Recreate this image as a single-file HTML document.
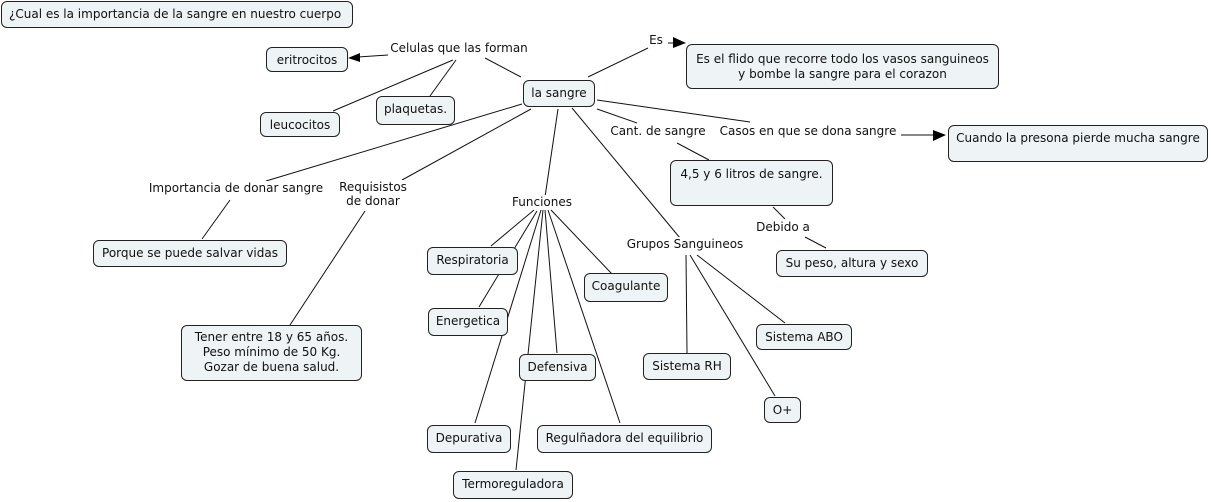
<!DOCTYPE html>
<html><head><meta charset="utf-8"><style>
body{margin:0;width:1211px;height:502px;background:#fff;position:relative;overflow:hidden;font-family:"DejaVu Sans","Liberation Sans",sans-serif;font-size:12px;color:#111}
.b{position:absolute;box-sizing:border-box;border:1px solid #222;border-radius:6px;background:#eef3f6;text-align:center;white-space:nowrap;line-height:15px;padding-top:5px}
.l{position:absolute;white-space:nowrap;text-align:center;line-height:14px;background:#fff;transform:translateX(-50%)}
svg{position:absolute;left:0;top:0}
</style></head><body>
<svg width="1211" height="502" stroke="#111" stroke-width="1" fill="none">
<line x1="521" y1="77" x2="485" y2="58"/>
<line x1="388" y1="55" x2="358" y2="57"/><polygon points="348,58 360,53 360,62" fill="#000" stroke="none"/>
<line x1="453" y1="60" x2="333" y2="111"/>
<line x1="456" y1="60" x2="430" y2="96"/>
<line x1="588" y1="77" x2="648" y2="48"/>
<line x1="668" y1="43" x2="676" y2="43"/><polygon points="686,43 673,37 673,48" fill="#000" stroke="none"/>
<line x1="597" y1="109" x2="637" y2="123"/>
<line x1="677" y1="143" x2="709" y2="160"/>
<line x1="597" y1="100" x2="750" y2="122"/>
<line x1="901" y1="135" x2="935" y2="135"/><polygon points="946,135 933,130 933,141" fill="#000" stroke="none"/>
<line x1="773" y1="207" x2="785" y2="219"/>
<line x1="805" y1="237" x2="826" y2="248"/>
<line x1="572" y1="108" x2="680" y2="238"/>
<line x1="558" y1="109" x2="545" y2="197"/>
<line x1="522" y1="104" x2="266" y2="181"/>
<line x1="531" y1="109" x2="402" y2="180"/>
<line x1="230" y1="200" x2="202" y2="239"/>
<line x1="365" y1="211" x2="290" y2="325"/>
<line x1="534" y1="210" x2="491" y2="246"/>
<line x1="537" y1="211" x2="479" y2="307"/>
<line x1="541" y1="210" x2="475" y2="423"/>
<line x1="543" y1="210" x2="516" y2="470"/>
<line x1="545" y1="210" x2="557" y2="353"/>
<line x1="548" y1="210" x2="620" y2="423"/>
<line x1="551" y1="210" x2="612" y2="274"/>
<line x1="686" y1="255" x2="687" y2="353"/>
<line x1="690" y1="255" x2="775" y2="396"/>
<line x1="697" y1="255" x2="785" y2="323"/>
</svg>
<div class="b" style="left:1px;top:1px;width:352px;height:27px;text-align:left;padding-left:7px">¿Cual es la importancia de la sangre en nuestro cuerpo</div>
<div class="b" style="left:266px;top:47px;width:82px;height:25px">eritrocitos</div>
<div class="b" style="left:260px;top:112px;width:80px;height:25px">leucocitos</div>
<div class="b" style="left:376px;top:96px;width:79px;height:29px">plaquetas.</div>
<div class="b" style="left:523px;top:80px;width:72px;height:27px">la sangre</div>
<div class="b" style="left:686px;top:44px;width:313px;height:45px;padding-top:7px">Es el flido que recorre todo los vasos sanguineos<br>y bombe la sangre para el corazon</div>
<div class="b" style="left:948px;top:125px;width:260px;height:37px">Cuando la presona pierde mucha sangre</div>
<div class="b" style="left:670px;top:160px;width:163px;height:46px;padding-top:6px">4,5 y 6 litros de sangre.</div>
<div class="b" style="left:776px;top:250px;width:152px;height:27px">Su peso, altura y sexo</div>
<div class="b" style="left:93px;top:240px;width:194px;height:27px">Porque se puede salvar vidas</div>
<div class="b" style="left:181px;top:325px;width:181px;height:56px;padding-top:4px">Tener entre 18 y 65 años.<br>Peso mínimo de 50 Kg.<br>Gozar de buena salud.</div>
<div class="b" style="left:427px;top:247px;width:91px;height:28px">Respiratoria</div>
<div class="b" style="left:428px;top:308px;width:80px;height:28px">Energetica</div>
<div class="b" style="left:584px;top:273px;width:84px;height:29px">Coagulante</div>
<div class="b" style="left:519px;top:354px;width:77px;height:27px">Defensiva</div>
<div class="b" style="left:427px;top:425px;width:84px;height:28px">Depurativa</div>
<div class="b" style="left:537px;top:425px;width:175px;height:28px">Regulñadora del equilibrio</div>
<div class="b" style="left:453px;top:471px;width:120px;height:28px">Termoreguladora</div>
<div class="b" style="left:643px;top:353px;width:88px;height:27px">Sistema RH</div>
<div class="b" style="left:756px;top:324px;width:96px;height:26px">Sistema ABO</div>
<div class="b" style="left:764px;top:397px;width:37px;height:26px">O+</div>
<div class="l" style="left:459px;top:41px">Celulas que las forman</div>
<div class="l" style="left:656px;top:33px">Es</div>
<div class="l" style="left:658px;top:124px">Cant. de sangre</div>
<div class="l" style="left:808px;top:124px">Casos en que se dona sangre</div>
<div class="l" style="left:236px;top:181px">Importancia de donar sangre</div>
<div class="l" style="left:373px;top:180px">Requisistos<br>de donar</div>
<div class="l" style="left:542px;top:195px">Funciones</div>
<div class="l" style="left:685px;top:237px">Grupos Sanguineos</div>
<div class="l" style="left:783px;top:220px">Debido a</div>
</body></html>
